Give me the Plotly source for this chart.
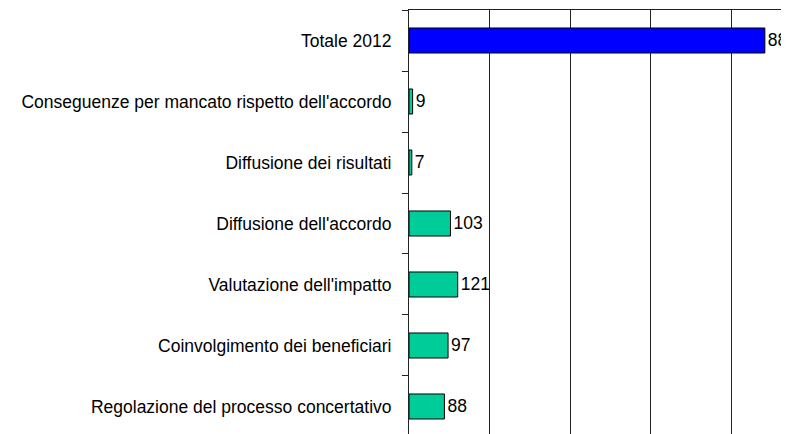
import plotly.graph_objects as go

categories = [
    "Totale 2012",
    "Conseguenze per mancato rispetto dell'accordo",
    "Diffusione dei risultati",
    "Diffusione dell'accordo",
    "Valutazione dell'impatto",
    "Coinvolgimento dei beneficiari",
    "Regolazione del processo concertativo",
]
values = [884, 9, 7, 103, 121, 97, 88]
colors = ["#0000FF"] + ["#00CC99"] * 6

FONT = "Liberation Sans, Arial, sans-serif"

fig = go.Figure(
    go.Bar(
        y=categories,
        x=values,
        orientation="h",
        marker=dict(color=colors, line=dict(color="#000000", width=1)),
        width=0.41,
        text=[str(v) for v in values],
        textposition="outside",
        textfont=dict(family=FONT, size=17.5, color="#000000"),
        constraintext="none",
        cliponaxis=False,
    )
)

fig.update_layout(
    width=781,
    height=426,
    margin=dict(l=401, r=0, t=2, b=0, pad=0),
    plot_bgcolor="#FFFFFF",
    paper_bgcolor="#FFFFFF",
    showlegend=False,
    font=dict(family=FONT, size=17.5, color="#000000"),
)

fig.update_xaxes(
    range=[0, 944],
    dtick=200,
    side="top",
    showticklabels=False,
    ticks="",
    showgrid=True,
    gridcolor="#222222",
    gridwidth=1,
    showline=True,
    linecolor="#222222",
    linewidth=1,
    zeroline=False,
)

fig.update_yaxes(
    type="category",
    categoryorder="array",
    categoryarray=categories,
    range=[6.451, -0.5],
    tickson="boundaries",
    ticks="outside",
    ticklen=6,
    tickcolor="#222222",
    showline=True,
    linecolor="#222222",
    linewidth=1,
    showgrid=False,
    ticklabelstandoff=13,
    tickfont=dict(family=FONT, size=17.5, color="#000000"),
)

fig.write_html("out.html")
